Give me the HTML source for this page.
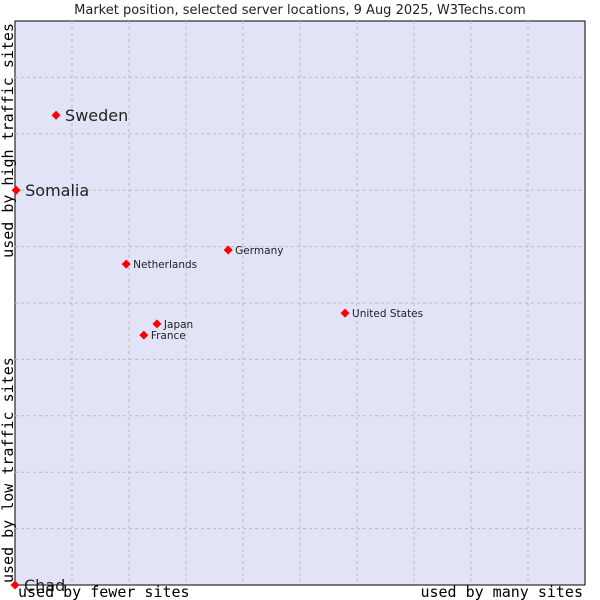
<!DOCTYPE html>
<html><head><meta charset="utf-8"><style>
body{margin:0;background:#fff;}
svg{display:block;}
</style></head><body>
<svg width="600" height="600" xmlns="http://www.w3.org/2000/svg">
<text x="300" y="14" text-anchor="middle" font-family="DejaVu Sans, sans-serif" font-size="13" fill="#222">Market position, selected server locations, 9 Aug 2025, W3Techs.com</text>
<rect x="15" y="21" width="570" height="564" fill="#e3e3f7" stroke="#000" stroke-width="1"/>
<g id="grid"></g>
<g id="pts"></g>
<text transform="translate(13,23) rotate(-90)" text-anchor="end" font-family="DejaVu Sans Mono, Liberation Mono, monospace" font-size="15" fill="#000">used by high traffic sites</text>
<text transform="translate(13,583) rotate(-90)" font-family="DejaVu Sans Mono, Liberation Mono, monospace" font-size="15" fill="#000">used by low traffic sites</text>
<text x="18" y="597" font-family="DejaVu Sans Mono, Liberation Mono, monospace" font-size="15" fill="#000">used by fewer sites</text>
<text x="583" y="597" text-anchor="end" font-family="DejaVu Sans Mono, Liberation Mono, monospace" font-size="15" fill="#000">used by many sites</text>
</svg>
<script>
const countries=["Sweden","Somalia","Netherlands","Germany","United States","Japan","France","Chad"];
const xValues=[7.2,0.2,19.5,37.4,57.9,24.9,22.6,0];
const yValues=[83.3,70.0,56.9,59.4,48.2,46.3,44.3,0];
const bigLabel=[true,true,false,false,false,false,false,true];
const L=15,T=21,W=570,H=564;
const sx=v=>L+v/100*W, sy=v=>T+H-v/100*H;
const NS="http://www.w3.org/2000/svg";
const g=document.getElementById('grid');
for(let i=1;i<10;i++){
  const a=document.createElementNS(NS,'line');
  a.setAttribute('x1',sx(i*10));a.setAttribute('x2',sx(i*10));a.setAttribute('y1',T);a.setAttribute('y2',T+H);
  a.setAttribute('stroke','#bbb');a.setAttribute('stroke-dasharray','3,3');
  
  
  g.appendChild(a);
  const b=document.createElementNS(NS,'line');
  b.setAttribute('y1',sy(i*10));b.setAttribute('y2',sy(i*10));b.setAttribute('x1',L);b.setAttribute('x2',L+W);
  b.setAttribute('stroke','#bbb');b.setAttribute('stroke-dasharray','3,3');
  
  
  g.appendChild(b);
}
const p=document.getElementById('pts');
countries.forEach((c,i)=>{
  const x=sx(xValues[i]),y=sy(yValues[i]);
  const m=document.createElementNS(NS,'path');
  m.setAttribute('d',`M${x-4.5},${y}L${x},${y-4.5}L${x+4.5},${y}L${x},${y+4.5}Z`);
  m.setAttribute('fill','#f00');
  
  
  p.appendChild(m);
  const t=document.createElementNS(NS,'text');
  t.setAttribute('x',x+(bigLabel[i]?9:7));
  t.setAttribute('y',y+(bigLabel[i]?6:4));
  t.setAttribute('font-family','DejaVu Sans, sans-serif');
  t.setAttribute('font-size',bigLabel[i]?16:10.5);
  t.setAttribute('fill','#222');
  t.textContent=c;
  
  
  p.appendChild(t);
});
</script>
</body></html>
